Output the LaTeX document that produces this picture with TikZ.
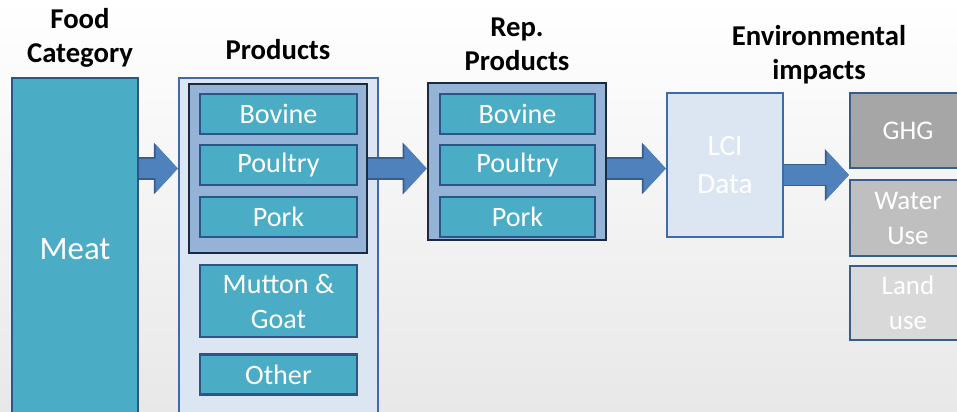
\documentclass[tikz,border=0pt]{standalone}
\usepackage{fontspec}
\setmainfont{Carlito}
\usetikzlibrary{positioning, arrows.meta}
\definecolor{meatteal}{RGB}{75,172,198}
\definecolor{boxedge}{RGB}{44,86,135}
\definecolor{palefill}{RGB}{220,230,242}
\definecolor{paleedge}{RGB}{63,108,166}
\definecolor{groupfill}{RGB}{149,179,215}
\definecolor{groupedge}{RGB}{28,42,64}
\definecolor{arrowfill}{RGB}{79,129,189}
\definecolor{arrowedge}{RGB}{56,93,138}
\definecolor{ghggray}{RGB}{166,166,166}
\definecolor{watergray}{RGB}{191,191,191}
\definecolor{landgray}{RGB}{217,217,217}
\tikzset{
node distance=0.3cm, % gap between stacked boxes
heading/.style={font=\fontsize{24.5}{29}\selectfont\bfseries, align=center, text=black}, % column titles
item/.style={draw=boxedge, line width=1.8pt, fill=meatteal, text=white, minimum width=4.71cm, minimum height=1.2cm, inner sep=0pt, align=center, font=\fontsize{24}{30}\selectfont}, % one product
group/.style={draw=groupedge, line width=2.2pt, fill=groupfill, inner sep=0pt}, % dark frame round the three products
pale/.style={draw=paleedge, line width=2pt, fill=palefill, inner sep=0pt}, % light container
impact/.style={draw=arrowedge, line width=1.8pt, text=white, minimum width=3.48cm, inner sep=0pt, align=center, font=\fontsize{23}{30}\selectfont}, % impact categories
flow/.style={draw=arrowfill, line width=17pt, -{Triangle[length=19pt, width=40pt]},
  preaction={draw=arrowedge, line width=19.5pt, -{Triangle[length=20.5pt, width=43pt]}}} % fat block arrow
}

\begin{document}
\begin{tikzpicture}[x=0.03cm, y=-0.03cm]
      \clip (0,0) rectangle (957,411);
      \shade[top color=white, bottom color=black!9] (0,0) rectangle (957,411);

      % titles
      \node[heading] (tcat) at (80,38) {Food\\Category};
      \node[heading] (tprod) at (278,50) {Products};
      \node[heading] (trep) at (517,44) {Rep.\\Products};
      \node[heading] (tenv) at (819,55) {Environmental\\impacts};

      % food category
      \node[item, minimum width=3.78cm, minimum height=10.26cm, font=\fontsize{28}{30}\selectfont] (meat) at (75,249) {Meat};

      % all products
      \node[pale, minimum width=5.97cm, minimum height=10.26cm] (products) at (278.5,249) {};
      \node[group, minimum width=5.34cm, minimum height=5.07cm] (pmain) at (278,168.5) {};
      \node[item] (pbovine) at (278.5,114) {Bovine};
      \node[item, below=0.27cm of pbovine] (ppoultry) {Poultry};
      \node[item, below=0.3cm of ppoultry] (ppork) {Pork};
      \node[item, minimum height=2.16cm, below=0.78cm of ppork] (pmutton) {Mutton \&\\Goat};
      \node[item, below=0.45cm of pmutton] (pother) {Other};

      % representative products
      \node[group, minimum width=5.34cm, minimum height=4.71cm] (rep) at (517,161.5) {};
      \node[item, minimum width=4.65cm] (rbovine) at (517.5,114) {Bovine};
      \node[item, minimum width=4.65cm, below=0.27cm of rbovine] (rpoultry) {Poultry};
      \node[item, minimum width=4.65cm, below=0.3cm of rpoultry] (rpork) {Pork};

      % inventory data
      \node[pale, text=white, minimum width=3.48cm, minimum height=4.32cm, align=center, font=\fontsize{25}{32}\selectfont] (lci) at (725,165) {LCI\\Data};

      % impacts
      \node[impact, fill=ghggray, minimum height=2.25cm] (ghg) at (908,130.5) {GHG};
      \node[impact, fill=watergray, minimum height=2.28cm, below=0.3cm of ghg] (water) {Water\\Use};
      \node[impact, fill=landgray, minimum height=2.22cm, below=0.22cm of water] (land) {Land\\use};

      \coordinate (midrow) at (0,168.5);
      \coordinate (impactrow) at (0,175);
      \draw[flow] (meat.east |- midrow) -- (products.west |- midrow);
      \draw[flow] (pmain.east |- midrow) -- (rep.west |- midrow);
      \draw[flow] (rep.east |- midrow) -- (lci.west |- midrow);
      \draw[flow] (lci.east |- impactrow) -- (ghg.west |- impactrow);
    \end{tikzpicture}
\end{document}
